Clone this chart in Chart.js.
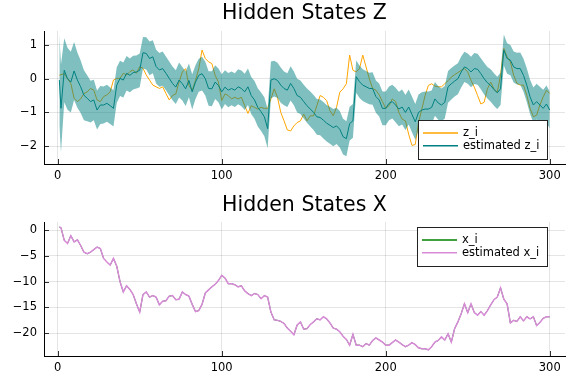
<!DOCTYPE html>
<html>
<head>
<meta charset="utf-8">
<script src="https://cdn.jsdelivr.net/npm/chart.js@4.4.0/dist/chart.umd.min.js"></script>
<style>
  html, body { margin: 0; padding: 0; background: #fff; }
  canvas { display: block; }
</style>
</head>
<body>
<canvas id="chartZ" width="576" height="192"></canvas>
<canvas id="chartX" width="576" height="192"></canvas>
<script>
// time index of the sampled points
const steps = [
  1, 2, 4, 6, 8, 10, 12, 14, 16, 18, 20, 22, 24, 26, 28, 30, 32, 34, 36, 38, 40, 42, 44, 46, 48, 50, 52, 54, 56, 58, 60, 62, 64, 66, 68, 70,
  72, 74, 76, 78, 80, 82, 84, 86, 88, 90, 92, 94, 96, 98, 100, 102, 104, 106, 108, 110, 112, 114, 116, 118, 120, 122, 124, 126, 128, 130, 132, 134, 136, 138, 140, 142, 144, 146,
  148, 150, 152, 154, 156, 158, 160, 162, 164, 166, 168, 170, 172, 174, 176, 178, 180, 182, 184, 186, 188, 190, 192, 194, 196, 198, 200, 202, 204, 206, 208, 210, 212, 214, 216, 218, 220,
  222, 224, 226, 228, 230, 232, 234, 236, 238, 240, 242, 244, 246, 248, 250, 252, 254, 256, 258, 260, 262, 264, 266, 268, 270, 272, 274, 276, 278, 280, 282, 284, 286, 288, 290, 292, 294, 296, 298, 300
];

const zTrue = [
  0.1, 0.12, 0.15, 0.0, -0.14, -0.58, -0.68, -0.6, -0.44, -0.39, -0.29, -0.34, -0.63, -0.68, -0.53, -0.48, -0.39, -0.04, 0.01, 0.01, 0.16, 0.11, 0.21, 0.26, 0.16, 0.36, 0.31, 0.11, -0.04, -0.19, -0.24, -0.29, -0.24, -0.44, -0.63, -0.5,
  -0.45, -0.1, 0.2, 0.3, -0.2, -0.35, -0.05, 0.3, 0.85, 0.6, 0.5, 0.45, 0.1, -0.1, -0.65, -0.45, -0.5, -0.6, -0.55, -0.6, -0.55, -0.8, -1.03, -0.8, -0.85, -0.9, -0.85, -0.88, -0.88, -0.6, -0.3, -0.55, -1.0, -1.25, -1.52, -1.55, -1.4, -1.3,
  -1.25, -1.05, -1.25, -1.1, -1.1, -0.8, -0.5, -0.55, -0.65, -0.95, -1.1, -0.85, -0.4, -0.3, -0.15, 0.7, 0.25, 0.2, 0.3, 0.7, 0.35, 0.0, -0.29, -0.34, -0.48, -0.68, -0.88, -0.8, -0.6, -0.68, -1.0, -1.2, -1.25, -1.65, -1.98, -1.95, -1.3,
  -0.9, -0.5, -0.2, -0.15, -0.22, -0.24, -0.24, -0.15, -0.06, 0.05, 0.12, 0.18, 0.25, 0.3, 0.2, -0.05, -0.25, -0.5, -0.75, -0.7, -0.3, -0.1, -0.3, -0.4, 0.1, 0.9, 0.65, 0.5, 0.1, -0.14, -0.19, -0.19, -0.49, -0.88, -1.13, -1.08, -0.78, -0.54, -0.34, -0.44
];

const zEst = [
  -0.04, -0.88, 0.25, 0.0, -0.1, 0.23, -0.04, -0.24, -0.49, -0.58, -0.68, -0.63, -0.93, -0.78, -0.78, -0.73, -0.8, -0.88, -0.19, 0.01, -0.04, 0.16, 0.1, 0.18, 0.2, 0.25, 0.77, 0.75, 0.6, 0.65, 0.36, 0.26, 0.3, 0.16, 0.01, -0.14,
  -0.25, -0.04, -0.15, -0.3, -0.05, -0.39, -0.1, 0.1, 0.15, 0.0, -0.29, -0.3, -0.1, -0.2, -0.39, -0.25, -0.34, -0.29, -0.34, -0.24, -0.29, -0.39, -0.24, -0.5, -0.63, -0.85, -0.98, -1.13, -1.48, -0.04, 0.0, -0.05, -0.19, -0.29, -0.34, -0.14, -0.29, -0.5,
  -0.55, -0.68, -0.8, -0.9, -1.0, -1.13, -1.15, -1.23, -1.32, -1.38, -1.45, -1.4, -1.5, -1.72, -1.78, -1.33, -1.25, 0.06, -0.09, -0.19, -0.24, -0.29, -0.29, -0.53, -0.63, -0.88, -0.88, -0.73, -0.68, -0.78, -0.9, -0.84, -1.0, -0.84, -1.06, -1.28, -1.0,
  -0.93, -0.9, -0.9, -0.85, -0.6, -0.72, -0.78, -0.7, -0.24, -0.15, -0.07, 0.0, 0.2, 0.35, 0.3, 0.2, 0.3, 0.28, 0.15, 0.0, -0.12, -0.2, -0.32, -0.42, -0.3, 0.85, 0.6, 0.55, 0.35, 0.3, 0.3, 0.1, -0.19, -0.54, -0.78, -0.68, -0.78, -0.88, -0.75, -0.93
];

// half width of the shaded band around the estimate
const zStd = [
  1.34, 1.3, 0.95, 0.92, 0.9, 0.86, 0.82, 0.78, 0.74, 0.68, 0.62, 0.6, 0.58, 0.56, 0.55, 0.55, 0.54, 0.54, 0.53, 0.52, 0.52, 0.51, 0.5, 0.5, 0.49, 0.5, 0.47, 0.48, 0.5, 0.49, 0.5, 0.5, 0.51, 0.5, 0.5, 0.5,
  0.5, 0.52, 0.5, 0.51, 0.5, 0.52, 0.5, 0.49, 0.5, 0.5, 0.51, 0.52, 0.5, 0.5, 0.52, 0.5, 0.51, 0.5, 0.5, 0.52, 0.53, 0.54, 0.54, 0.55, 0.56, 0.57, 0.57, 0.58, 0.58, 0.55, 0.53, 0.52, 0.52, 0.5, 0.5, 0.51, 0.5, 0.5,
  0.5, 0.5, 0.51, 0.52, 0.52, 0.53, 0.53, 0.54, 0.54, 0.55, 0.55, 0.54, 0.54, 0.53, 0.52, 0.5, 0.5, 0.48, 0.48, 0.47, 0.47, 0.47, 0.48, 0.48, 0.49, 0.5, 0.5, 0.5, 0.5, 0.51, 0.51, 0.52, 0.52, 0.52, 0.53, 0.53, 0.53,
  0.53, 0.52, 0.52, 0.5, 0.5, 0.5, 0.49, 0.48, 0.47, 0.47, 0.46, 0.46, 0.46, 0.45, 0.45, 0.45, 0.46, 0.46, 0.46, 0.47, 0.47, 0.48, 0.48, 0.48, 0.48, 0.46, 0.45, 0.45, 0.46, 0.47, 0.48, 0.49, 0.5, 0.51, 0.52, 0.53, 0.54, 0.55, 0.55, 0.55
];

const xTrue = [
  0.58, 0.45, -2.0, -2.6, -1.1, -2.3, -1.9, -3.0, -4.3, -4.6, -4.3, -3.8, -3.3, -3.6, -5.5, -6.2, -6.8, -5.5, -7.0, -10.0, -12.0, -10.8, -11.5, -12.5, -14.3, -15.9, -12.5, -12.0, -13.0, -12.7, -13.0, -14.5, -13.8, -13.7, -12.8, -12.7,
  -13.5, -13.4, -12.0, -12.5, -12.8, -14.4, -15.8, -15.6, -14.4, -12.2, -11.6, -11.0, -10.5, -9.8, -8.8, -9.3, -10.4, -10.4, -10.6, -11.0, -10.8, -11.8, -12.3, -12.7, -12.3, -12.5, -13.3, -12.7, -13.0, -15.9, -17.4, -17.5, -17.7, -18.1, -19.0, -19.6, -20.3, -18.4,
  -17.8, -19.2, -19.1, -18.3, -17.8, -17.2, -17.4, -16.8, -17.2, -18.0, -19.0, -19.2, -19.7, -20.6, -21.2, -22.3, -20.2, -22.3, -22.3, -22.6, -22.0, -22.3, -21.4, -20.9, -21.3, -21.7, -22.3, -22.3, -21.8, -21.3, -21.7, -22.2, -22.6, -22.3, -21.8, -22.2, -22.8,
  -23.0, -23.0, -23.2, -22.6, -21.7, -21.4, -20.7, -21.3, -20.1, -21.7, -19.1, -17.8, -16.2, -14.3, -16.0, -14.3, -16.0, -16.5, -15.8, -16.5, -15.6, -14.5, -13.5, -13.0, -11.2, -13.4, -14.3, -18.0, -17.5, -17.7, -16.8, -17.6, -16.8, -17.2, -16.8, -18.5, -17.9, -17.1, -16.8, -16.8
];
// the estimate sits on top of the true path
const xEst = xTrue;

const timeTicks = [0, 100, 200, 300];
const zTicks = [-2, -1, 0, 1];
const xTicks = [-20, -15, -10, -5, 0];

const FONT = "DejaVu Sans";
const ORANGE = "#FFA500";
const TEAL = "#008080";
const GREEN = "#008000";
const PINK = "#D98BD9";

const toPoints = (ys) => ys.map((y, i) => ({ x: steps[i], y: y }));
const fmt = (v) => (v < 0 ? "\u2212" + Math.abs(v) : String(v));

// title, inward ticks and the boxed legend, drawn the way Plots does it
function framePlugin(title, legend) {
  return {
    id: "frame",
    afterDraw(chart) {
      const { ctx, chartArea: a, scales } = chart;
      ctx.save();
      ctx.strokeStyle = "rgba(0,0,0,0.8)";
      ctx.lineWidth = 1;
      ctx.beginPath();
      scales.x.ticks.forEach((t) => {
        const px = Math.round(scales.x.getPixelForValue(t.value)) + 0.5;
        ctx.moveTo(px, a.bottom);
        ctx.lineTo(px, a.bottom - 5);
      });
      scales.y.ticks.forEach((t) => {
        const py = Math.round(scales.y.getPixelForValue(t.value)) + 0.5;
        ctx.moveTo(a.left, py);
        ctx.lineTo(a.left + 5, py);
      });
      ctx.stroke();

      ctx.fillStyle = "#000";
      ctx.font = "20.5px '" + FONT + "'";
      ctx.textAlign = "center";
      ctx.textBaseline = "alphabetic";
      ctx.fillText(title, (a.left + a.right) / 2, 18.5);

      ctx.fillStyle = "#fff";
      ctx.fillRect(legend.x, legend.y, legend.w, legend.h);
      ctx.strokeStyle = "#222";
      ctx.strokeRect(legend.x + 0.5, legend.y + 0.5, legend.w, legend.h);
      ctx.font = "11.5px '" + FONT + "'";
      ctx.textAlign = "left";
      ctx.textBaseline = "middle";
      legend.items.forEach((it, i) => {
        const y = legend.y + 13 + i * 12.7;
        ctx.strokeStyle = it.color;
        ctx.lineWidth = 1.5;
        ctx.beginPath();
        ctx.moveTo(legend.x + 5, y);
        ctx.lineTo(legend.x + 40, y);
        ctx.stroke();
        ctx.fillStyle = "#000";
        ctx.fillText(it.label, legend.x + 45, y);
      });
      ctx.restore();
    },
  };
}

function axes(yMin, yMax, yTicks) {
  const grid = { color: "rgba(0,0,0,0.1)", drawTicks: false };
  const border = { display: true, color: "#000", width: 1 };
  const font = { family: FONT, size: 11.5 };
  return {
    x: {
      type: "linear",
      min: -8.35,
      max: 309.3,
      grid: grid,
      border: border,
      ticks: { color: "#000", font: font, padding: 5, maxRotation: 0, callback: fmt },
      afterBuildTicks: (s) => { s.ticks = timeTicks.map((v) => ({ value: v })); },
      afterFit: (s) => { s.height = 28; },
    },
    y: {
      type: "linear",
      min: yMin,
      max: yMax,
      grid: grid,
      border: border,
      ticks: { color: "#000", font: font, padding: 7, callback: fmt },
      afterBuildTicks: (s) => { s.ticks = yTicks.map((v) => ({ value: v })); },
      afterFit: (s) => { s.width = 44; },
    },
  };
}

const common = {
  responsive: false,
  animation: false,
  devicePixelRatio: 1,
  layout: { padding: { left: 0, right: 11, top: 31, bottom: 0 } },
  elements: { point: { radius: 0 }, line: { tension: 0 } },
  plugins: { legend: { display: false }, tooltip: { enabled: false } },
};

new Chart(document.getElementById("chartZ"), {
  type: "line",
  data: {
    datasets: [
      { label: "estimated z_i", data: toPoints(zEst), borderColor: TEAL, borderWidth: 1, fill: false, order: 0 },
      { label: "upper", data: toPoints(zEst.map((v, i) => v + zStd[i])), borderColor: "transparent", borderWidth: 0, backgroundColor: "rgba(0,128,128,0.5)", fill: "+1", order: 1 },
      { label: "lower", data: toPoints(zEst.map((v, i) => v - zStd[i])), borderColor: "transparent", borderWidth: 0, fill: false, order: 1 },
      { label: "z_i", data: toPoints(zTrue), borderColor: ORANGE, borderWidth: 1, fill: false, order: 2 },
    ],
  },
  options: Object.assign({}, common, { scales: axes(-2.53, 1.415, zTicks) }),
  plugins: [framePlugin("Hidden States Z", {
    x: 418, y: 120, w: 129, h: 39,
    items: [{ label: "z_i", color: ORANGE }, { label: "estimated z_i", color: TEAL }],
  })],
});

new Chart(document.getElementById("chartX"), {
  type: "line",
  data: {
    datasets: [
      { label: "estimated x_i", data: toPoints(xEst), borderColor: PINK, borderWidth: 1.5, fill: false, order: 0 },
      { label: "x_i", data: toPoints(xTrue), borderColor: GREEN, borderWidth: 1, fill: false, order: 1 },
    ],
  },
  options: Object.assign({}, common, {
    layout: { padding: { left: 0, right: 11, top: 30, bottom: 0 } },
    scales: axes(-24.4, 1.55, xTicks),
  }),
  plugins: [framePlugin("Hidden States X", {
    x: 417, y: 35, w: 130, h: 39,
    items: [{ label: "x_i", color: GREEN }, { label: "estimated x_i", color: PINK }],
  })],
});
</script>
</body>
</html>
